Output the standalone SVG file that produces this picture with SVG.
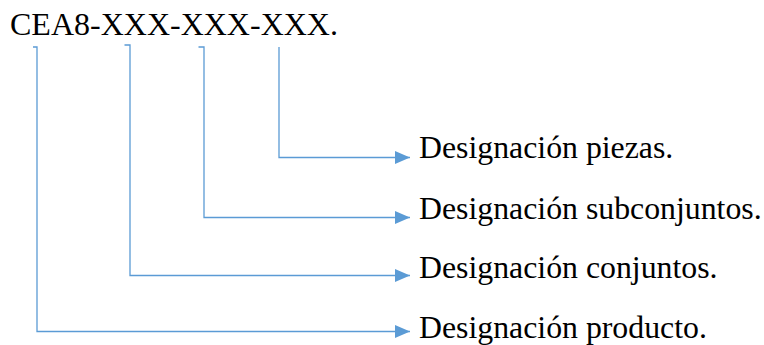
<svg xmlns="http://www.w3.org/2000/svg" width="764" height="345" viewBox="0 0 764 345">
<defs>
<marker id="arr" viewBox="0 0 15 13" refX="15" refY="6.5" markerWidth="15" markerHeight="13" markerUnits="userSpaceOnUse" orient="auto">
<path d="M0,0 L15,6.5 L0,13 Z" fill="#5B9BD5"/>
</marker>
<style>
.t{font-family:"Liberation Serif","Times New Roman",serif;fill:#000}
.title{font-size:32px}
.lbl{font-size:31.8px}
.c{fill:none;stroke:#5B9BD5;stroke-width:1.3}
</style>
</defs>
<rect width="764" height="345" fill="#fff"/>
<g id="code"><text class="t title" x="10" y="35">CEA8-XXX-XXX-XXX.</text></g>
<g id="connectors">
<path class="c" d="M279,47 V157.5 H410" marker-end="url(#arr)"/>
<path class="c" d="M198.5,47 H204 V217.5 H410" marker-end="url(#arr)"/>
<path class="c" d="M124.5,45 H130 V275.5 H410" marker-end="url(#arr)"/>
<path class="c" d="M33,47 H37 V331.5 H410" marker-end="url(#arr)"/>
</g>
<g id="piezas"><text class="t lbl" x="419" y="158">Designación piezas.</text></g>
<g id="subconjuntos"><text class="t lbl" x="419" y="219">Designación subconjuntos.</text></g>
<g id="conjuntos"><text class="t lbl" x="419" y="278">Designación conjuntos.</text></g>
<g id="producto"><text class="t lbl" x="419" y="338">Designación producto.</text></g>
</svg>
